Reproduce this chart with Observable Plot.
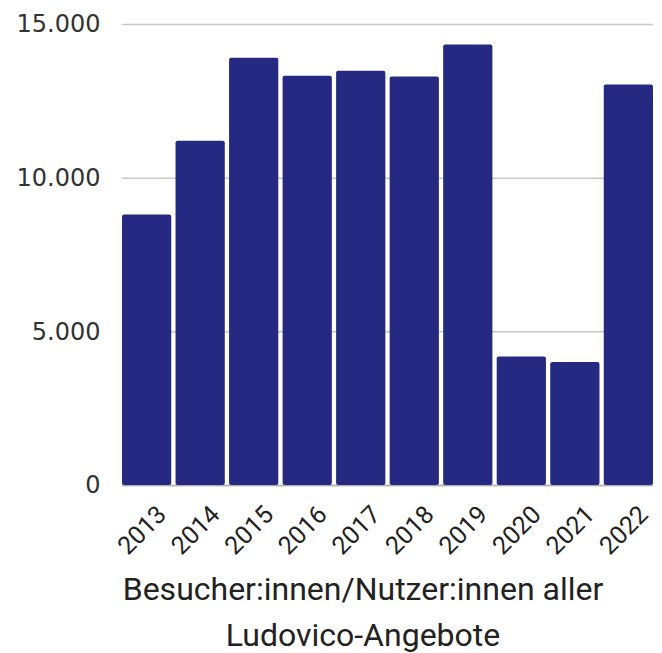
<!DOCTYPE html>
<html>
<head>
<meta charset="utf-8">
<script src="https://cdn.jsdelivr.net/npm/d3@7"></script>
<script src="https://cdn.jsdelivr.net/npm/@observablehq/plot@0.6"></script>
<style>
  html, body { margin: 0; padding: 0; background: #fff; }
  #chart svg { display: block; }
  .caption {
    width: 662px; box-sizing: border-box; padding-left: 64px;
    text-align: center; font-family: Roboto, sans-serif; font-size: 32px;
    line-height: 46px; color: #222; margin: 0;
  }
</style>
</head>
<body>
<div id="chart"></div>
<div class="caption">Besucher:innen/Nutzer:innen aller<br>Ludovico-Angebote</div>
<script>
const years = ["2013","2014","2015","2016","2017","2018","2019","2020","2021","2022"];
const visitors = [8800, 11200, 13900, 13320, 13480, 13290, 14330, 4180, 4000, 13030];
const yTicks = [0, 5000, 10000, 15000];

const data = years.map((year, i) => ({year, value: visitors[i]}));
const de = d3.formatLocale({decimal: ",", thousands: ".", grouping: [3], currency: ["", " €"]});
const fmt = de.format(",");

const chart = Plot.plot({
  width: 662,
  height: 566,
  marginLeft: 122,
  marginRight: 9,
  marginTop: 24,
  marginBottom: 81,
  x: {type: "band", domain: years, paddingInner: 0.08, paddingOuter: 0, round: false, label: null},
  y: {domain: [0, 15000], label: null},
  marks: [
    Plot.gridY(yTicks, {stroke: "#c8c8c8", strokeOpacity: 1, strokeWidth: 1.5}),
    Plot.ruleY([0], {stroke: "#b0b0b0", strokeWidth: 1.5}),
    Plot.barY(data, {x: "year", y: "value", fill: "#252982", rx: 2}),
    Plot.axisY(yTicks, {tickSize: 0, tickPadding: 22, tickFormat: fmt, fill: "#333", label: null}),
    Plot.axisX({tickSize: 0, tickRotate: -45, tickPadding: 25, dx: 15, fill: "#222", label: null})
  ]
});
document.getElementById("chart").appendChild(chart);
const svg = d3.select(chart);
svg.selectAll('g[aria-label="y-axis tick label"]')
  .attr("font-size", 24).attr("font-family", "DejaVu Sans")
  .selectAll("text").attr("font-size", 24);
svg.selectAll('g[aria-label="x-axis tick label"]')
  .attr("font-size", 25).attr("font-family", "Roboto")
  .selectAll("text").attr("font-size", 25);
</script>
</body>
</html>
